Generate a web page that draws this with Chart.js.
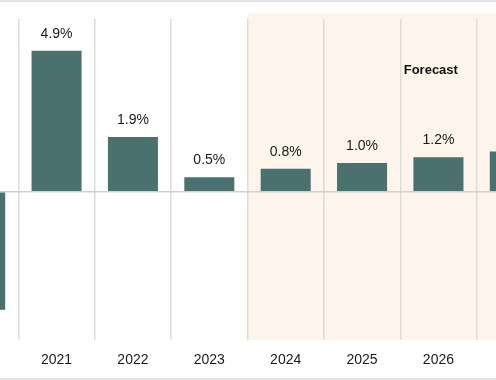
<!DOCTYPE html>
<html>
<head>
<meta charset="utf-8">
<script src="https://cdn.jsdelivr.net/npm/chart.js@4"></script>
<style>
    html, body { margin: 0; padding: 0; background: #ffffff; overflow: hidden; }
    #wrap { position: relative; width: 496px; height: 380px; overflow: hidden; }
    #growthChart { position: absolute; left: -58px; top: 0; }
</style>
</head>
<body>
<div id="wrap">
    <canvas id="growthChart" width="611" height="380"></canvas>
</div>
<script>
// Growth by year (2020 and 2027 are cut off at the edges of the picture)
const years = ['2020', '2021', '2022', '2023', '2024', '2025', '2026', '2027'];
const growth = [-4.1, 4.9, 1.9, 0.5, 0.8, 1.0, 1.2, 1.4];
const valueLabels = ['-4.1%', '4.9%', '1.9%', '0.5%', '0.8%', '1.0%', '1.2%', '1.4%'];
const forecastStart = '2024';
const forecastText = 'Forecast';

document.addEventListener('DOMContentLoaded', () => {
    const barColor = '#4b716e';
    const shadeColor = '#fdf4eb';
    const gridColor = '#dcdcdc';

    // Shaded forecast area behind the bars
    const forecastShade = {
        id: 'forecastShade',
        beforeDraw(chart) {
            const { ctx, chartArea, scales: { x } } = chart;
            const idx = years.indexOf(forecastStart);
            const half = (x.getPixelForValue(1) - x.getPixelForValue(0)) / 2;
            const left = x.getPixelForValue(idx) - half;
            ctx.save();
            ctx.fillStyle = shadeColor;
            ctx.fillRect(left, chartArea.top - 6, chartArea.right - left, chartArea.bottom - chartArea.top + 6);
            ctx.restore();
        }
    };

    // Value labels, the forecast note and the thin frame lines
    const barLabels = {
        id: 'barLabels',
        afterDraw(chart) {
            const { ctx, chartArea, scales: { x } } = chart;
            const meta = chart.getDatasetMeta(0);
            ctx.save();
            ctx.font = '14px "Liberation Sans", Arial, sans-serif';
            ctx.fillStyle = '#1a1a1a';
            ctx.textAlign = 'center';
            ctx.textBaseline = 'middle';
            meta.data.forEach((bar, i) => {
                const v = growth[i];
                const y = v >= 0 ? bar.y - 17 : bar.y + 17;
                ctx.fillText(valueLabels[i], bar.x, y);
            });

            ctx.font = 'bold 13px "Liberation Sans", Arial, sans-serif';
            ctx.fillStyle = '#111111';
            ctx.fillText(forecastText, x.getPixelForValue(5.9), chartArea.top + 51);

            ctx.fillStyle = '#e2e2e2';
            ctx.fillRect(0, 0, chart.width, 2);
            ctx.fillRect(0, chart.height - 2, chart.width, 2);
            ctx.restore();
        }
    };

    new Chart(document.getElementById('growthChart').getContext('2d'), {
        type: 'bar',
        data: {
            labels: years,
            datasets: [{
                data: growth,
                backgroundColor: barColor,
                borderWidth: 0,
                barPercentage: 0.655,
                categoryPercentage: 1.0
            }]
        },
        options: {
            responsive: false,
            animation: false,
            layout: { padding: { top: 19, left: 0, right: 0, bottom: 0 } },
            plugins: {
                legend: { display: false },
                tooltip: { enabled: false }
            },
            scales: {
                x: {
                    offset: true,
                    grid: {
                        offset: true,
                        color: gridColor,
                        lineWidth: 1.5,
                        drawTicks: false
                    },
                    border: { display: false },
                    ticks: {
                        color: '#1a1a1a',
                        font: { family: '"Liberation Sans", Arial, sans-serif', size: 14 },
                        padding: 12,
                        maxRotation: 0
                    },
                    afterFit(axis) { axis.height = 40; }
                },
                y: {
                    min: -5.15,
                    max: 6.0,
                    grid: {
                        drawTicks: false,
                        lineWidth: 1.5,
                        color: ctx => ctx.tick && ctx.tick.value === 0 ? '#d0d0d0' : 'rgba(0,0,0,0)'
                    },
                    border: { display: false },
                    ticks: { display: false, stepSize: 1 },
                    afterFit(axis) { axis.width = 0; }
                }
            }
        },
        plugins: [forecastShade, barLabels]
    });
});
</script>
</body>
</html>
